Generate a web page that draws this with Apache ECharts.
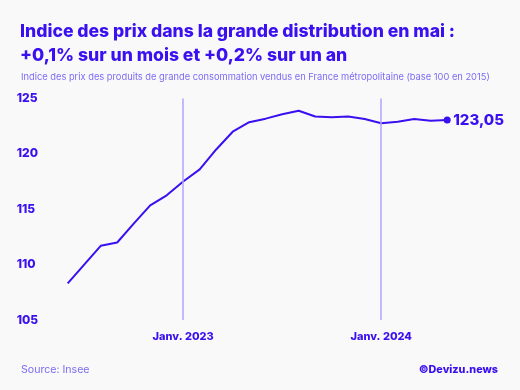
<!DOCTYPE html>
<html><head><meta charset="utf-8">
<script src="https://cdn.jsdelivr.net/npm/echarts@6/dist/echarts.min.js"></script>
<style>html,body{margin:0;padding:0;background:#f9f9f9}#c{width:520px;height:390px}</style>
</head><body><div id="c"></div>
<script>
const months = ["Juin 2022","Juil. 2022","Août 2022","Sept. 2022","Oct. 2022","Nov. 2022","Déc. 2022",
  "Janv. 2023","Févr. 2023","Mars 2023","Avr. 2023","Mai 2023","Juin 2023","Juil. 2023","Août 2023","Sept. 2023","Oct. 2023","Nov. 2023","Déc. 2023",
  "Janv. 2024","Févr. 2024","Mars 2024","Avr. 2024","Mai 2024"];
const indexValues = [108.3,110.0,111.7,112.0,113.7,115.35,116.26,117.5,118.6,120.4,122.0,122.86,123.18,123.57,123.9,123.38,123.3,123.38,123.15,122.77,122.9,123.15,123.0,123.05];
const markedMonths = ["Janv. 2023","Janv. 2024"];
const yTicks = {min:105, max:125, interval:5};
const lastLabel = "123,05";

const blue = '#3a0ff0';
const chart = echarts.init(document.getElementById('c'));
chart.setOption({
  backgroundColor:'#f9f9f9',
  animation:false,
  title:[
    {text:'Indice des prix dans la grande distribution en mai :\n+0,1% sur un mois et +0,2% sur un an',
     left:15, top:15, textStyle:{fontFamily:'Inter', fontWeight:800, fontSize:17.6, color:blue, lineHeight:24}},
    {text:'Indice des prix des produits de grande consommation vendus en France métropolitaine (base 100 en 2015)',
     left:16, top:68, textStyle:{fontFamily:'Inter', fontWeight:'normal', fontSize:9.3, color:'#7b6cf5'}},
    {text:'Source: Insee', left:16, top:359, textStyle:{fontFamily:'Inter', fontWeight:'normal', fontSize:10.6, color:'#7b6cf5'}},
    {text:'©Devizu.news', right:17, top:359, textStyle:{fontFamily:'Inter', fontWeight:800, fontSize:10.8, color:blue}}
  ],
  grid:{left:67.7, right:72.8, top:98.5, bottom:70},
  xAxis:{type:'category', data:months, boundaryGap:false,
    axisLine:{show:false}, axisTick:{show:false}, splitLine:{show:false},
    axisLabel:{interval:(i,v)=>markedMonths.includes(v), margin:11,
      fontFamily:'Inter', fontWeight:800, fontSize:11, color:blue}},
  yAxis:{type:'value', min:yTicks.min, max:yTicks.max, interval:yTicks.interval,
    axisLine:{show:false}, axisTick:{show:false}, splitLine:{show:false},
    axisLabel:{align:'left', margin:51, fontFamily:'Inter', fontWeight:800, fontSize:12, color:blue}},
  series:[{
    type:'line', data:indexValues, smooth:false,
    lineStyle:{color:blue, width:2},
    itemStyle:{color:blue},
    symbol:(v,p)=>p.dataIndex===indexValues.length-1?'circle':'none',
    symbolSize:7, showAllSymbol:true,
    endLabel:{show:true, formatter:()=>lastLabel, distance:6,
      fontFamily:'Inter', fontWeight:800, fontSize:15, color:blue},
    markLine:{silent:true, symbol:'none', label:{show:false},
      lineStyle:{color:'#aea4ff', width:1.5, type:'solid'},
      data:markedMonths.map(m=>({xAxis:m}))}
  }]
});
</script></body></html>
